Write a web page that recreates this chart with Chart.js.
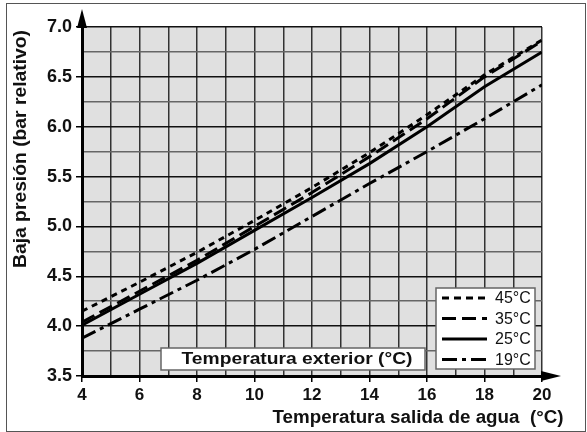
<!DOCTYPE html>
<html>
<head>
<meta charset="utf-8">
<script src="https://cdn.jsdelivr.net/npm/chart.js@4.4.1/dist/chart.umd.min.js"></script>
<style>
  html, body { margin: 0; padding: 0; background: #fff; }
  #wrap { width: 587px; height: 432px; position: relative; }
</style>
</head>
<body>
<div id="wrap"><canvas id="chart" width="587" height="432"></canvas></div>
<script>
// Water outlet temperature (x) and low pressure readings per outdoor temperature
const waterTemps = [4, 6, 8, 10, 12, 14, 16, 18, 20];
const seriesLabels = ['45°C', '35°C', '25°C', '19°C'];
const press45 = [4.15, 4.44, 4.74, 5.06, 5.39, 5.74, 6.12, 6.52, 6.87];
const press35 = [4.04, 4.35, 4.66, 5.00, 5.34, 5.70, 6.08, 6.50, 6.86];
const press25 = [4.01, 4.32, 4.63, 4.96, 5.29, 5.63, 6.00, 6.40, 6.75];
const press19 = [3.88, 4.17, 4.46, 4.77, 5.10, 5.43, 5.75, 6.08, 6.42];

const xTitle = 'Temperatura salida de agua  (°C)';
const yTitle = 'Baja presión (bar relativo)';
const boxTitle = 'Temperatura exterior (°C)';

const FONT = "'Liberation Sans', Arial, Helvetica, sans-serif";
const dashes = [[6, 5], [14, 6], [], [15, 5, 4, 5]];

function toPoints(ys) {
  return waterTemps.map((x, i) => ({ x: x, y: ys[i] }));
}

const isHalf = (v) => Math.abs(v * 2 - Math.round(v * 2)) < 1e-6;

const allSeries = [press45, press35, press25, press19];
const datasets = allSeries.map((ys, i) => ({
  label: seriesLabels[i],
  data: toPoints(ys),
  borderColor: '#000',
  borderWidth: 3,
  borderDash: dashes[i],
  pointRadius: 0,
  fill: false,
  tension: 0
}));

// draws text squeezed/stretched horizontally to a given width
function wideText(ctx, text, x, y, width) {
  const w = ctx.measureText(text).width;
  ctx.save();
  ctx.translate(x, y);
  ctx.scale(width / w, 1);
  ctx.textAlign = 'center';
  ctx.fillText(text, 0, 0);
  ctx.restore();
}

// plot background
const backgroundPlugin = {
  id: 'plotBackground',
  beforeDraw(chart) {
    const { ctx, chartArea } = chart;
    ctx.save();
    ctx.fillStyle = '#fff';
    ctx.fillRect(0, 0, chart.width, chart.height);
    ctx.fillStyle = '#e0e0e0';
    ctx.fillRect(chartArea.left, chartArea.top, chartArea.right - chartArea.left, chartArea.bottom - chartArea.top);
    ctx.restore();
  }
};

// arrows, boxes, titles, legend
const decorPlugin = {
  id: 'decor',
  afterDraw(chart) {
    const { ctx, chartArea } = chart;
    const L = chartArea.left, B = chartArea.bottom;
    ctx.save();

    // outer frame
    ctx.strokeStyle = '#555';
    ctx.lineWidth = 1;
    ctx.strokeRect(6.5, 3.5, chart.width - 8, chart.height - 4);

    // axis arrows
    ctx.fillStyle = '#000';
    ctx.strokeStyle = '#000';
    ctx.lineWidth = 3;
    ctx.beginPath();
    ctx.moveTo(L, chartArea.top);
    ctx.lineTo(L, 20);
    ctx.stroke();
    ctx.beginPath();
    ctx.moveTo(L, 9);
    ctx.lineTo(L - 5, 28);
    ctx.lineTo(L + 5, 28);
    ctx.closePath();
    ctx.fill();
    ctx.beginPath();
    ctx.moveTo(chartArea.right, B);
    ctx.lineTo(552, B);
    ctx.stroke();
    ctx.beginPath();
    ctx.moveTo(561, B);
    ctx.lineTo(541, B - 5);
    ctx.lineTo(541, B + 5);
    ctx.closePath();
    ctx.fill();

    // "Temperatura exterior" box
    ctx.fillStyle = '#fff';
    ctx.fillRect(161, 348, 264, 22);
    ctx.strokeStyle = '#666';
    ctx.lineWidth = 1.5;
    ctx.strokeRect(161, 348, 264, 22);
    ctx.fillStyle = '#111';
    ctx.font = 'bold 17px ' + FONT;
    ctx.textBaseline = 'middle';
    wideText(ctx, boxTitle, 297, 359, 231);

    // legend
    ctx.fillStyle = '#fff';
    ctx.fillRect(436, 288, 99, 81);
    ctx.strokeStyle = '#666';
    ctx.strokeRect(436, 288, 99, 81);
    chart.data.datasets.forEach((ds, i) => {
      const y = 298 + i * 20.5;
      ctx.strokeStyle = '#000';
      ctx.lineWidth = 3;
      ctx.setLineDash(i === 0 ? [7, 5] : ds.borderDash);
      ctx.beginPath();
      ctx.moveTo(442, y);
      ctx.lineTo(487, y);
      ctx.stroke();
      ctx.setLineDash([]);
      ctx.fillStyle = '#111';
      ctx.font = '16px ' + FONT;
      ctx.textAlign = 'left';
      ctx.fillText(ds.label, 495, y + 1);
    });

    // axis titles
    ctx.fillStyle = '#111';
    ctx.font = 'bold 18px ' + FONT;
    wideText(ctx, xTitle, 418, 418, 291);
    ctx.translate(21, 149);
    ctx.rotate(-Math.PI / 2);
    wideText(ctx, yTitle, 0, 0, 238);
    ctx.restore();
  }
};

new Chart(document.getElementById('chart'), {
  type: 'line',
  data: { datasets: datasets },
  options: {
    responsive: false,
    animation: false,
    layout: { padding: { left: 0, top: 27, right: 45, bottom: 0 } },
    plugins: { legend: { display: false }, tooltip: { enabled: false } },
    scales: {
      x: {
        type: 'linear',
        min: 4,
        max: 20,
        afterFit(scale) { scale.height = 56; },
        ticks: {
          stepSize: 1,
          autoSkip: false,
          maxRotation: 0,
          padding: 3,
          color: '#111',
          font: { family: FONT, size: 17, weight: 'bold' },
          callback: (v) => (v % 2 === 0 ? String(v) : '')
        },
        grid: {
          color: '#333',
          lineWidth: 1.5,
          tickLength: 6,
          tickColor: (c) => (c.tick && c.tick.value % 2 === 0 ? '#000' : 'rgba(0,0,0,0)')
        },
        border: { display: true, color: '#000', width: 3 }
      },
      y: {
        type: 'linear',
        min: 3.5,
        max: 7,
        afterFit(scale) { scale.width = 82; },
        ticks: {
          stepSize: 0.25,
          autoSkip: false,
          padding: 4,
          color: '#111',
          font: { family: FONT, size: 18, weight: 'bold' },
          callback: (v) => (isHalf(v) ? v.toFixed(1) : '')
        },
        grid: {
          color: (c) => (c.tick && isHalf(c.tick.value) ? '#111' : '#666'),
          lineWidth: 1.5,
          tickLength: 6,
          tickColor: (c) => (c.tick && isHalf(c.tick.value) ? '#000' : 'rgba(0,0,0,0)')
        },
        border: { display: true, color: '#000', width: 3 }
      }
    }
  },
  plugins: [backgroundPlugin, decorPlugin]
});
</script>
</body>
</html>
